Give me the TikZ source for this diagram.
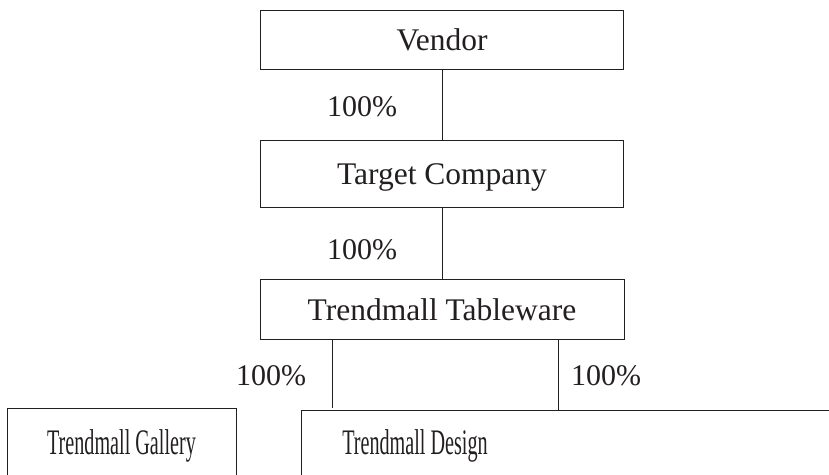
\documentclass[tikz,border=0pt]{standalone}
\usepackage{fontspec}
\setmainfont{Liberation Serif}
\definecolor{ink}{HTML}{231F20}
\begin{document}
\begin{tikzpicture}[x=1pt,y=-1pt,
  box/.style={draw=ink,line width=1pt,text=ink,inner sep=0pt,
    font=\fontsize{31.5}{36}\selectfont,text height=22pt,text depth=0pt},
  pct/.style={text=ink,inner sep=0pt,font=\fontsize{30}{34}\selectfont},
  link/.style={draw=ink,line width=1pt}]
\useasboundingbox (0,0) rectangle (829,474);
\clip (0,0) rectangle (829,474);
\node[box,minimum width=363pt,minimum height=59pt] (vendor) at (442,39.5) {Vendor};
\node[box,minimum width=363pt,minimum height=67pt] (target) at (442,173.5) {Target Company};
\node[box,minimum width=364pt,minimum height=60pt] (tableware) at (442,309) {Trendmall Tableware};
\node[box,minimum width=229pt,minimum height=74pt,text height=25pt,text depth=7pt] (gallery) at (121.5,445) {\scalebox{0.64}[1.14]{Trendmall Gallery}};
\node[draw=ink,line width=1pt,inner sep=0pt,minimum width=540pt,minimum height=74pt] (design) at (571,447) {};
\node[text=ink,inner sep=0pt,font=\fontsize{31.5}{36}\selectfont,text height=25pt,text depth=6pt] (designtext) at (415,445) {\scalebox{0.64}[1.14]{Trendmall Design}};
\draw[link] (vendor.south) -- (target.north);
\draw[link] (target.south) -- (tableware.north);
\draw[link] ([xshift=-110pt]tableware.south) coordinate (l) -- (l |- gallery.north);
\draw[link] ([xshift=116pt]tableware.south) coordinate (r) -- (r |- design.north);
\node[pct] (p1) at (362,107) {100\%};
\node[pct] (p2) at (362,250) {100\%};
\node[pct] (p3) at (271,376) {100\%};
\node[pct] (p4) at (606,376) {100\%};
\end{tikzpicture}
\end{document}
